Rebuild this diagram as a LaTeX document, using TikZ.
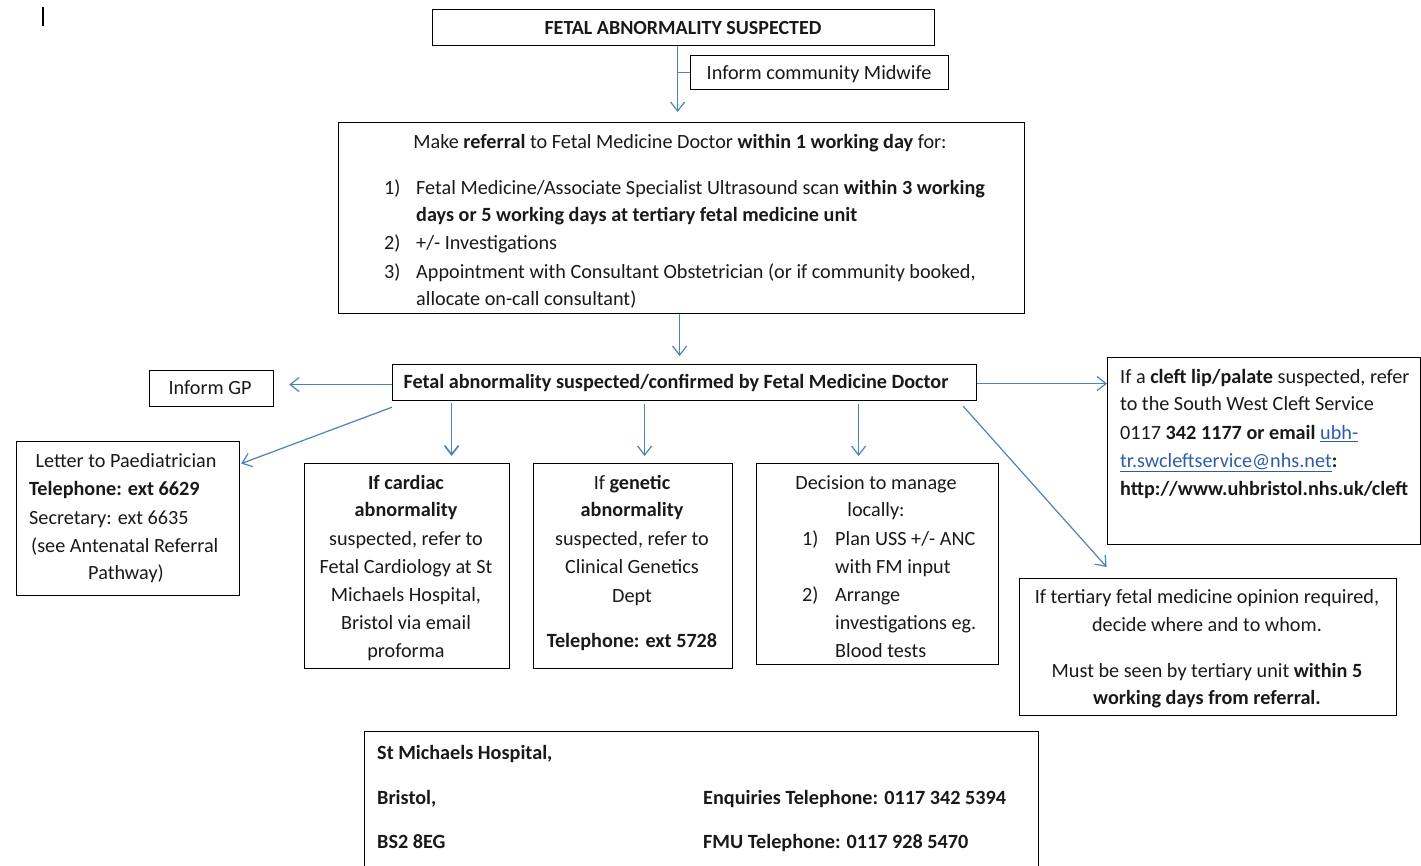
\documentclass[tikz,border=0pt]{standalone}
\usepackage{fontspec}
\setmainfont{Carlito}
\usetikzlibrary{arrows.meta}
\definecolor{arrowblue}{HTML}{4F81BD}
\definecolor{linkblue}{HTML}{2E5CA8}
\newcommand\myfs{\fontsize{20.2}{24}\selectfont}
\newcommand\lnk[1]{{\color{linkblue}\underline{#1}}}
\begin{document}
\begin{tikzpicture}[x=1pt,y=-1pt,
  box/.style={draw=black, line width=1.2pt, inner sep=0pt, anchor=north west},
  tx/.style={inner sep=0pt, font=\myfs, text=black!90, yshift=-5.5pt},
  tc/.style={tx, anchor=mid},
  tl/.style={tx, anchor=mid west},
  arr/.style={draw=arrowblue, line width=1.2pt, -{Straight Barb[length=9pt,width=14pt]}},
  conn/.style={draw=arrowblue, line width=1.2pt}
]
\useasboundingbox (0,0) rectangle (1421,866);
\draw[line width=2.2pt] (43,7) -- (43,26);

% boxes
\node[box, minimum width=502pt, minimum height=36pt] (top) at (432,9) {};
\node[box, minimum width=258pt, minimum height=34pt] (mid) at (690,55) {};
\node[box, minimum width=686pt, minimum height=191pt] (ref) at (338,122) {};
\node[box, minimum width=584pt, minimum height=36pt] (fm) at (392,364) {};
\node[box, minimum width=124pt, minimum height=36pt] (gp) at (149,370) {};
\node[box, minimum width=313pt, minimum height=187pt] (cleft) at (1107,357) {};
\node[box, minimum width=223pt, minimum height=154pt] (letter) at (16,441) {};
\node[box, minimum width=205pt, minimum height=205pt] (card) at (304,463) {};
\node[box, minimum width=199pt, minimum height=205pt] (gen) at (533,463) {};
\node[box, minimum width=242pt, minimum height=201pt] (dec) at (756,463) {};
\node[box, minimum width=377pt, minimum height=137pt] (tert) at (1019,578) {};
\node[box, minimum width=674pt, minimum height=160pt] (bot) at (364,731) {};

% texts
\node[tc, font=\fontsize{20}{24}\selectfont\bfseries] (ttop) at (683,27) {FETAL ABNORMALITY SUSPECTED};
\node[tc] (tmid) at (819,72) {Inform community Midwife};

\node[tc] (r0) at (680,141) {Make \textbf{referral} to Fetal Medicine Doctor \textbf{within 1 working day} for:};
\node[tl] (r1n) at (384,187) {1)};
\node[tl] (r1) at (416,187) {Fetal Medicine/Associate Specialist Ultrasound scan \textbf{within 3 working}};
\node[tl] (r1b) at (416,214) {\textbf{days or 5 working days at tertiary fetal medicine unit}};
\node[tl] (r2n) at (384,242) {2)};
\node[tl] (r2) at (416,242) {+/- Investigations};
\node[tl] (r3n) at (384,271) {3)};
\node[tl] (r3) at (416,271) {Appointment with Consultant Obstetrician (or if community booked,};
\node[tl] (r3b) at (416,298) {allocate on-call consultant)};

\node[tc, font=\myfs\bfseries] (tfm) at (676,381) {Fetal abnormality suspected/confirmed by Fetal Medicine Doctor};
\node[tc] (tgp) at (210,387) {Inform GP};

\node[tl] (cl1) at (1120,376) {If a \textbf{cleft lip/palate} suspected, refer};
\node[tl] (cl2) at (1120,403) {to the South West Cleft Service};
\node[tl] (cl3) at (1120,432) {0117 \textbf{342 1177 or email} \lnk{ubh-}};
\node[tl] (cl4) at (1120,460) {\lnk{tr.swcleftservice@nhs.net}\textbf{:}};
\node[tl] (cl5) at (1120,488) {\textbf{http://www.uhbristol.nhs.uk/cleft}};

\node[tc] (l1) at (126,460) {Letter to Paediatrician};
\node[tl] (l2) at (29,488) {\textbf{Telephone: ext 6629}};
\node[tl] (l3) at (29,517) {Secretary: ext 6635};
\node[tl] (l4) at (31,545) {(see Antenatal Referral};
\node[tc] (l5) at (126,572) {Pathway)};

\node[tc, font=\myfs\bfseries] (c1) at (406,482) {If cardiac};
\node[tc, font=\myfs\bfseries] (c2) at (406,509) {abnormality};
\node[tc] (c3) at (406,538) {suspected, refer to};
\node[tc] (c4) at (406,566) {Fetal Cardiology at St};
\node[tc] (c5) at (406,594) {Michaels Hospital,};
\node[tc] (c6) at (406,622) {Bristol via email};
\node[tc] (c7) at (406,650) {proforma};

\node[tc] (g1) at (632,482) {If \textbf{genetic}};
\node[tc, font=\myfs\bfseries] (g2) at (632,509) {abnormality};
\node[tc] (g3) at (632,538) {suspected, refer to};
\node[tc] (g4) at (632,566) {Clinical Genetics};
\node[tc] (g5) at (632,595) {Dept};
\node[tc, font=\myfs\bfseries] (g6) at (632,640) {Telephone: ext 5728};

\node[tc] (d1) at (876,482) {Decision to manage};
\node[tc] (d2) at (876,509) {locally:};
\node[tl] (d3n) at (802,538) {1)};
\node[tl] (d3) at (835,538) {Plan USS +/- ANC};
\node[tl] (d4) at (835,566) {with FM input};
\node[tl] (d5n) at (802,594) {2)};
\node[tl] (d5) at (835,594) {Arrange};
\node[tl] (d6) at (835,622) {investigations eg.};
\node[tl] (d7) at (835,650) {Blood tests};

\node[tc] (t1) at (1207,596) {If tertiary fetal medicine opinion required,};
\node[tc] (t2) at (1207,624) {decide where and to whom.};
\node[tc] (t3) at (1207,670) {Must be seen by tertiary unit \textbf{within 5}};
\node[tc, font=\myfs\bfseries] (t4) at (1207,697) {working days from referral.};

\node[tl, font=\myfs\bfseries] (b1) at (377,752) {St Michaels Hospital,};
\node[tl, font=\myfs\bfseries] (b2) at (377,797) {Bristol,};
\node[tl, font=\myfs\bfseries] (b3) at (377,841) {BS2 8EG};
\node[tl, font=\myfs\bfseries] (b4) at (703,797) {Enquiries Telephone: 0117 342 5394};
\node[tl, font=\myfs\bfseries] (b5) at (703,841) {FMU Telephone: 0117 928 5470};

% connectors
\draw[arr] ([xshift=-6pt]top.south) -- ([xshift=-4pt,yshift=10pt]ref.north);
\draw[conn] (mid.west) -- ++(-13,0);
\draw[arr] ([xshift=-2pt]ref.south) -- ([xshift=-5pt,yshift=8pt]fm.north);
\draw[arr] ([yshift=-2pt]fm.west) -- ([xshift=15pt,yshift=4pt]gp.east);
\draw[arr] ([yshift=-1pt]fm.east) -- ([yshift=67.5pt]cleft.west);
\draw[arr] ([yshift=-6pt]fm.south west) -- ([xshift=1pt,yshift=55pt]letter.east);
\draw[arr, line width=1.7pt] ([xshift=-233pt,yshift=-2pt]fm.south) -- ([xshift=44.5pt,yshift=7pt]card.north);
\draw[arr] ([xshift=-40pt,yshift=-3pt]fm.south) -- ([xshift=11.5pt,yshift=7pt]gen.north);
\draw[arr] ([xshift=174pt,yshift=-3pt]fm.south) -- ([xshift=-19pt,yshift=7pt]dec.north);
\draw[arr] ([xshift=-14pt,yshift=-5pt]fm.south east) -- ([xshift=-101.5pt,yshift=11pt]tert.north);
\end{tikzpicture}
\end{document}
